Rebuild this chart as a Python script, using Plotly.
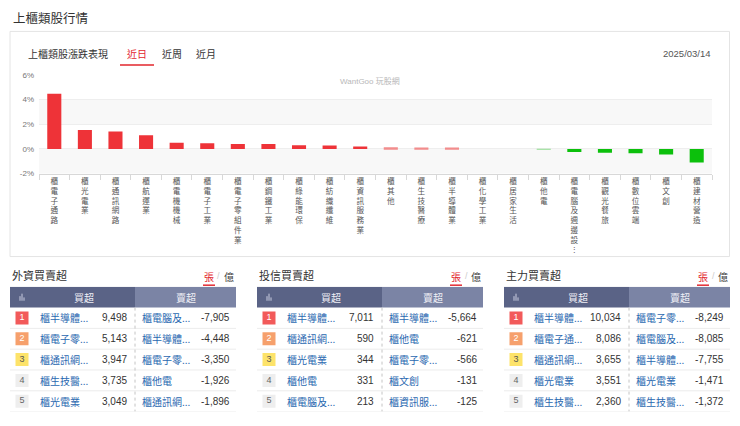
import plotly.graph_objects as go

W, H = 740, 426

# ---------------- data ----------------
sector_names = ["櫃電子通路", "櫃光電業", "櫃通訊網路", "櫃航運業", "櫃電機機械", "櫃電子工業",
                "櫃電子零組件業", "櫃鋼鐵工業", "櫃綠能環保", "櫃紡織纖維", "櫃資訊服務業", "櫃其他",
                "櫃生技醫療", "櫃半導體業", "櫃化學工業", "櫃居家生活", "櫃他電", "櫃電腦及週邊設備",
                "櫃觀光餐旅", "櫃數位雲端", "櫃文創", "櫃建材營造"]
sector_change = [4.47, 1.53, 1.40, 1.10, 0.50, 0.45, 0.40, 0.40, 0.30, 0.28, 0.20, 0.13,
                 0.12, 0.12, 0.0, 0.0, -0.05, -0.25, -0.30, -0.35, -0.45, -1.10]
y_tick_vals = [-2, 0, 2, 4, 6]
y_tick_text = ["-2%", "0%", "2%", "4%", "6%"]

table_titles = ["外資買賣超", "投信買賣超", "主力買賣超"]
ranks = [1, 2, 3, 4, 5]

foreign_buy_names = ["櫃半導體業", "櫃電子零組件業", "櫃通訊網路", "櫃生技醫療", "櫃光電業"]
foreign_buy_vals = [9498, 5143, 3947, 3735, 3049]
foreign_sell_names = ["櫃電腦及週邊設備", "櫃半導體業", "櫃電子零組件業", "櫃他電", "櫃通訊網路"]
foreign_sell_vals = [-7905, -4448, -3350, -1926, -1896]

trust_buy_names = ["櫃半導體業", "櫃通訊網路", "櫃光電業", "櫃他電", "櫃電腦及週邊設備"]
trust_buy_vals = [7011, 590, 344, 331, 213]
trust_sell_names = ["櫃半導體業", "櫃他電", "櫃電子零組件業", "櫃文創", "櫃資訊服務業"]
trust_sell_vals = [-5664, -621, -566, -131, -125]

main_buy_names = ["櫃半導體業", "櫃電子通路", "櫃通訊網路", "櫃光電業", "櫃生技醫療"]
main_buy_vals = [10034, 8086, 3655, 3551, 2360]
main_sell_names = ["櫃電子零組件業", "櫃電腦及週邊設備", "櫃半導體業", "櫃光電業", "櫃生技醫療"]
main_sell_vals = [-8249, -8085, -7755, -1471, -1372]

tables = [
    (foreign_buy_names, foreign_buy_vals, foreign_sell_names, foreign_sell_vals),
    (trust_buy_names, trust_buy_vals, trust_sell_names, trust_sell_vals),
    (main_buy_names, main_buy_vals, main_sell_names, main_sell_vals),
]

# ---------------- helpers ----------------
FONT = "Liberation Sans, Arial, Noto Sans CJK TC, sans-serif"
CJK = "Noto Sans CJK TC, Liberation Sans, sans-serif"


def px(x):
    return x / W


def py(y):
    return 1 - y / H


def vertical(label, maxlen=7):
    chars = list(label)
    if len(chars) > maxlen:
        chars = chars[:maxlen] + ["︙"]
    return "<br>".join(chars)


def short(name):
    return name if len(name) <= 4 else name[:4] + "..."


def bar_color(v):
    if v >= 0.2:
        return "#ee3338"
    if v > 0:
        return "#f28c8c"
    if v <= -0.2:
        return "#0cc00c"
    return "#8fdc8f"


fig = go.Figure()

# ---------------- bar chart ----------------
fig.add_trace(go.Bar(
    x=sector_names, y=sector_change,
    marker=dict(color=[bar_color(v) for v in sector_change], line=dict(width=0)),
    width=0.46, xaxis="x", yaxis="y", hoverinfo="x+y", showlegend=False,
))

shapes = []
annotations = []

# card border
shapes.append(dict(type="rect", xref="paper", yref="paper", x0=px(10), x1=px(729.5),
                   y0=py(258), y1=py(28), line=dict(color="#e4e4e4", width=1),
                   fillcolor="rgba(0,0,0,0)", layer="below"))
# plot bands
for b0, b1 in [(2, 4), (-2, 0)]:
    shapes.append(dict(type="rect", xref="x domain", yref="y", x0=0, x1=1, y0=b0, y1=b1,
                       fillcolor="#f8f8f8", line=dict(width=0), layer="below"))

# headings
annotations.append(dict(text="上櫃類股行情", x=px(11), y=py(14), xref="paper", yref="paper",
                        xanchor="left", yanchor="middle", showarrow=False,
                        font=dict(family=CJK, size=12.5, color="#333")))
annotations.append(dict(text="上櫃類股漲跌表現", x=px(26), y=py(51), xref="paper", yref="paper",
                        xanchor="left", yanchor="middle", showarrow=False,
                        font=dict(family=CJK, size=10, color="#333")))
for lbl, cx, col in [("近日", 137, "#e2262d"), ("近周", 172, "#333"), ("近月", 206, "#333")]:
    annotations.append(dict(text=lbl, x=px(cx), y=py(51), xref="paper", yref="paper",
                            xanchor="center", yanchor="middle", showarrow=False,
                            font=dict(family=CJK, size=10, color=col)))
shapes.append(dict(type="rect", xref="paper", yref="paper", x0=px(120), x1=px(154),
                   y0=py(63), y1=py(61.5), fillcolor="#e2262d", line=dict(width=0)))
annotations.append(dict(text="2025/03/14", x=px(713), y=py(51), xref="paper", yref="paper",
                        xanchor="right", yanchor="middle", showarrow=False,
                        font=dict(family=FONT, size=9.5, color="#555")))
annotations.append(dict(text="WantGoo 玩股網", x=px(370), y=py(79), xref="paper", yref="paper",
                        xanchor="center", yanchor="middle", showarrow=False,
                        font=dict(family=FONT, size=8, color="#b8b8b8")))

layout_axes = dict(
    xaxis=dict(domain=[px(39), px(712)], anchor="y", type="category",
               tickvals=sector_names, ticktext=[vertical(n) for n in sector_names],
               tickfont=dict(family=CJK, size=7.6, color="#555"),
               ticks="outside", tickson="boundaries", ticklen=5, tickcolor="#d8d8d8",
               showline=True, linecolor="#d8d8d8", linewidth=1, showgrid=False,
               fixedrange=True),
    yaxis=dict(domain=[py(173.3), py(72.3)], anchor="x", range=[-2, 6],
               tickvals=y_tick_vals, ticktext=y_tick_text, tickmode="array",
               tickfont=dict(family=FONT, size=8, color="#777"),
               showgrid=True, gridcolor="#eeeeee", gridwidth=1, zeroline=False,
               showline=False, ticks="", ticklabelstandoff=4, fixedrange=True),
)

# ---------------- tables ----------------
T_LEFT = [10, 257, 504]
T_W = 226
SPLIT = 125
badge_colors = ["#f25a5a", "#f6a06c", "#fde36a", "#eeeeee", "#eeeeee"]
badge_text = ["#fff", "#fff", "#555", "#666", "#666"]
y_dom = [py(416.4), py(288.9)]

for t, (bn, bv, sn, sv) in enumerate(tables):
    k = t + 2
    xa, ya = f"x{k}", f"y{k}"
    layout_axes[f"xaxis{k}"] = dict(domain=[px(T_LEFT[t]), px(T_LEFT[t] + T_W)], range=[0, T_W],
                                    anchor=ya, visible=False, fixedrange=True)
    layout_axes[f"yaxis{k}"] = dict(domain=y_dom, range=[5.5, -0.5], anchor=xa,
                                    visible=False, fixedrange=True)

    # title and unit toggle
    annotations.append(dict(text=table_titles[t], x=px(T_LEFT[t]), y=py(277), xref="paper", yref="paper",
                            xanchor="left", yanchor="middle", showarrow=False,
                            font=dict(family=CJK, size=11, color="#333")))
    ux = T_LEFT[t] + T_W
    annotations.append(dict(text="張", x=px(ux - 27), y=py(278), xref="paper", yref="paper",
                            xanchor="center", yanchor="middle", showarrow=False,
                            font=dict(family=CJK, size=10, color="#e2262d")))
    annotations.append(dict(text="/", x=px(ux - 17), y=py(278), xref="paper", yref="paper",
                            xanchor="center", yanchor="middle", showarrow=False,
                            font=dict(family=FONT, size=9, color="#ccc")))
    annotations.append(dict(text="億", x=px(ux - 7), y=py(278), xref="paper", yref="paper",
                            xanchor="center", yanchor="middle", showarrow=False,
                            font=dict(family=CJK, size=10, color="#444")))
    shapes.append(dict(type="rect", xref="paper", yref="paper", x0=px(ux - 33), x1=px(ux - 21),
                       y0=py(288), y1=py(286.5), fillcolor="#e2262d", line=dict(width=0)))

    # header
    shapes.append(dict(type="rect", xref=xa, yref=ya, x0=0, x1=SPLIT, y0=-0.5, y1=0.5,
                       fillcolor="#5a6386", line=dict(width=0)))
    shapes.append(dict(type="rect", xref=xa, yref=ya, x0=SPLIT, x1=T_W, y0=-0.5, y1=0.5,
                       fillcolor="#7b84a5", line=dict(width=0)))
    # small chart icon
    for ix, h in [(10, 0.22), (12, 0.34), (14, 0.16)]:
        shapes.append(dict(type="line", xref=xa, yref=ya, x0=ix, x1=ix, y0=0.17, y1=0.17 - h,
                           line=dict(color="#c9cde0", width=1)))
    annotations.append(dict(text="買超", x=(SPLIT + 22) / 2, y=0, xref=xa, yref=ya,
                            xanchor="center", yanchor="middle", showarrow=False,
                            font=dict(family=CJK, size=10, color="#f0f0f6")))
    annotations.append(dict(text="賣超", x=(SPLIT + T_W) / 2, y=0, xref=xa, yref=ya,
                            xanchor="center", yanchor="middle", showarrow=False,
                            font=dict(family=CJK, size=10, color="#f0f0f6")))

    # row separators and divider
    for r in ranks:
        shapes.append(dict(type="line", xref=xa, yref=ya, x0=0, x1=T_W, y0=r + 0.5, y1=r + 0.5,
                           line=dict(color="#ececec", width=1)))
    shapes.append(dict(type="line", xref=xa, yref=ya, x0=SPLIT, x1=SPLIT, y0=0.5, y1=5.5,
                       line=dict(color="#c4c4c4", width=1, dash="dot")))

    # rank badges
    fig.add_trace(go.Scatter(
        x=[12] * len(ranks), y=ranks, xaxis=xa, yaxis=ya, mode="markers+text",
        marker=dict(symbol="square", size=13, color=badge_colors, line=dict(width=0)),
        text=[str(r) for r in ranks], textposition="middle center",
        textfont=dict(family=FONT, size=9, color=badge_text),
        hoverinfo="skip", showlegend=False,
    ))

    for i, r in enumerate(ranks):
        annotations.append(dict(text=short(bn[i]), x=28, y=r, xref=xa, yref=ya,
                                xanchor="left", yanchor="middle", showarrow=False,
                                font=dict(family=CJK, size=10, color="#2a68b0")))
        annotations.append(dict(text=f"{bv[i]:,}", x=119, y=r, xref=xa, yref=ya,
                                xanchor="right", yanchor="middle", showarrow=False,
                                font=dict(family=FONT, size=10, color="#333")))
        annotations.append(dict(text=short(sn[i]), x=SPLIT + 5, y=r, xref=xa, yref=ya,
                                xanchor="left", yanchor="middle", showarrow=False,
                                font=dict(family=CJK, size=10, color="#2a68b0")))
        annotations.append(dict(text=f"{sv[i]:,}", x=T_W - 4, y=r, xref=xa, yref=ya,
                                xanchor="right", yanchor="middle", showarrow=False,
                                font=dict(family=FONT, size=10, color="#333")))

fig.update_layout(
    width=W, height=H, margin=dict(l=0, r=0, t=0, b=0),
    paper_bgcolor="#ffffff", plot_bgcolor="rgba(0,0,0,0)",
    showlegend=False, bargap=0.5,
    shapes=shapes, annotations=annotations,
    font=dict(family=FONT),
    **layout_axes,
)

fig.write_html("out.html", config={"displayModeBar": False},
               post_script="document.body.style.margin='0';document.body.style.overflow='hidden';")
